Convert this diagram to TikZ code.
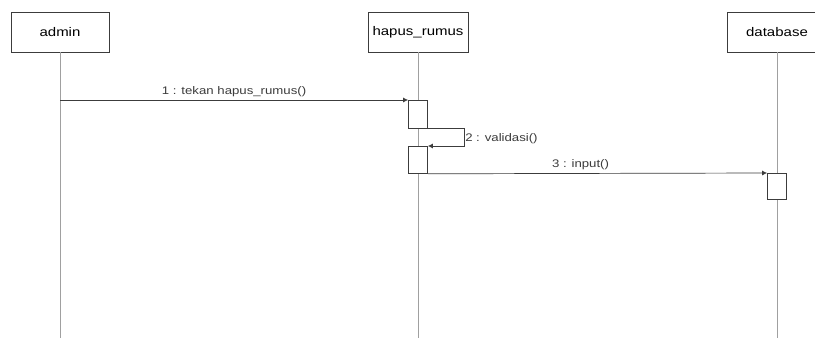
\documentclass[tikz,border=0pt]{standalone}
\usepackage{fontspec}
\setmainfont{Liberation Sans}[FakeStretch=1.2]
\usetikzlibrary{arrows.meta,positioning,calc}
\definecolor{Ink}{HTML}{3C3C3C}
\definecolor{Life}{HTML}{A0A0A0}
\tikzset{
  >={Latex[length=5pt,width=5pt]},
  obj/.style={draw=Ink,line width=.8pt,fill=white,minimum width=98pt,minimum height=40pt,inner sep=0pt,font=\fontsize{12.5}{14}\selectfont},
  act/.style={draw=Ink,line width=.8pt,fill=white,minimum width=19pt,inner sep=0pt},
  life/.style={draw=Life,line width=.7pt},
  msg/.style={->,draw=Ink,line width=.7pt},
  lab/.style={font=\fontsize{11}{13}\selectfont,inner sep=1pt,text=Ink}
}
\begin{document}
\begin{tikzpicture}[x=1pt,y=-1pt]
        \clip (0,0) rectangle (815,338);
        \fill[white] (0,0) rectangle (815,338);
        \coordinate (bottom) at (0,338);
        \node[obj] (admin) at (60,32) {admin};
        \node[obj,minimum width=100pt] (hapus) at (418,32) {hapus\_rumus};
        \node[obj,minimum width=100pt] (db) at (777,32) {database};
        \draw[life] (admin.south) -- (admin.south |- bottom);
        \draw[life] (hapus.south) -- (hapus.south |- bottom);
        \draw[life] (db.south) -- (db.south |- bottom);
        \node[act,minimum height=28pt,anchor=north] (a1) at (418,100) {};
        \node[act,minimum height=27pt,anchor=north] (a2) at (418,146) {};
        \node[act,minimum height=26pt,anchor=north] (a3) at (777,173) {};
        \draw[msg] (admin.south |- a1.north) -- node[lab,above=2pt] {1 : tekan hapus\_rumus()} (a1.north west);
        \draw[msg] (a1.south east) -- ++(36,0) coordinate (turn) |- node[lab,right,pos=.3] {2 : validasi()} (a2.north east);
        \draw[msg] (a2.south east) -- node[lab,above=2pt,pos=.45] {3 : input()} (a3.north west);
      \end{tikzpicture}
\end{document}
